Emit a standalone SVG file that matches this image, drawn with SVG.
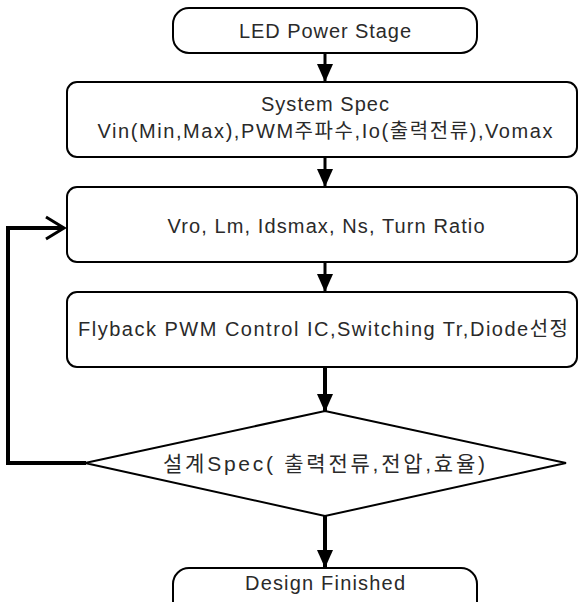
<svg xmlns="http://www.w3.org/2000/svg" width="581" height="602" viewBox="0 0 581 602">
  <style>
    .box { fill: #ffffff; stroke: #000000; stroke-width: 2; }
    .lbl { font-family: "Liberation Sans", "Noto Sans CJK KR", sans-serif; font-size: 20px; fill: #2a2a2a; text-anchor: middle; }
    .ko { font-size: 21px; }
    .flow { stroke: #000000; stroke-width: 3; fill: none; }
    .flow-bold { stroke: #000000; stroke-width: 4; fill: none; }
  </style>
  <defs>
    <!-- filled triangular head, tip at the end of the line -->
    <marker id="head" viewBox="0 0 18 16" refX="18" refY="8" markerWidth="18" markerHeight="16" markerUnits="userSpaceOnUse" orient="auto">
      <path d="M0,0 L18,8 L0,16 Z" fill="#000000"/>
    </marker>
  </defs>
  <rect width="581" height="602" fill="#ffffff"/>

  <!-- connectors -->
  <g id="connectors">
    <line class="flow" x1="325" y1="53" x2="325" y2="82" marker-end="url(#head)"/>
    <line class="flow" x1="325" y1="157" x2="325" y2="187" marker-end="url(#head)"/>
    <line class="flow" x1="325" y1="262" x2="325" y2="292" marker-end="url(#head)"/>
    <line class="flow-bold" x1="325" y1="367" x2="325" y2="412" marker-end="url(#head)"/>
    <line class="flow-bold" x1="325" y1="516" x2="325" y2="568" marker-end="url(#head)"/>
    <!-- loop back from the decision to the design step -->
    <polyline class="flow-bold" points="86,463 8,463 8,228 62,228"/>
    <polyline class="flow" points="46,217 64,228 46,239"/>
  </g>

  <g id="start">
    <rect class="box" x="173" y="8" width="304" height="45" rx="16" ry="16"/>
    <text class="lbl" x="325" y="38" textLength="172">LED Power Stage</text>
  </g>

  <g id="system-spec">
    <rect class="box" x="67" y="82" width="510" height="75" rx="10" ry="10"/>
    <text class="lbl" x="325" y="111" textLength="128">System Spec</text>
    <text class="lbl" x="325" y="138" textLength="455">Vin(Min,Max),PWM주파수,Io(출력전류),Vomax</text>
  </g>

  <g id="design-params">
    <rect class="box" x="67" y="187" width="510" height="75" rx="10" ry="10"/>
    <text class="lbl" x="326" y="233" textLength="317">Vro, Lm, Idsmax, Ns, Turn Ratio</text>
  </g>

  <g id="part-select">
    <rect class="box" x="67" y="292" width="510" height="75" rx="10" ry="10"/>
    <text class="lbl" x="323" y="336" textLength="490">Flyback PWM Control IC,Switching Tr,Diode선정</text>
  </g>

  <g id="check">
    <polygon class="box" points="325,411 566,463 325,516 85,463"/>
    <text class="lbl ko" x="324" y="471" textLength="322">설계Spec( 출력전류,전압,효율)</text>
  </g>

  <g id="end">
    <rect class="box" x="173" y="568" width="304" height="60" rx="16" ry="16"/>
    <text class="lbl" x="325" y="590" textLength="160">Design Finished</text>
  </g>
</svg>
